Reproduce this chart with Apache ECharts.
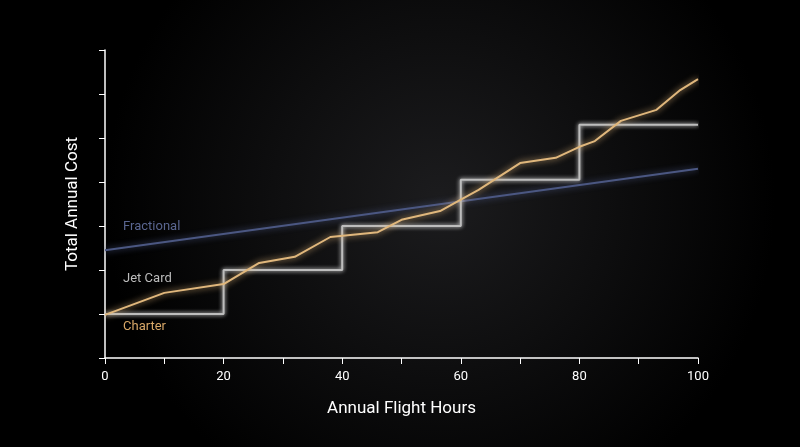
<!DOCTYPE html>
<html><head><meta charset="utf-8">
<script src="https://cdn.jsdelivr.net/npm/echarts@6/dist/echarts.min.js"></script>
<style>html,body{margin:0;padding:0;background:#000}#c{width:800px;height:447px}</style>
</head><body><div id="c"></div>
<script>
const fractional = [[0,2.45],[100,4.3]];
const jetCard = [[0,1],[20,1],[20,2],[40,2],[40,3],[60,3],[60,4.05],[80,4.05],[80,5.3],[100,5.3]];
const charter = [[0,0.98],[10,1.48],[20,1.68],[26,2.16],[32,2.3],[38,2.75],[46,2.86],[50,3.14],[56.5,3.34],[60,3.6],[63,3.82],[70,4.43],[76,4.55],[80,4.8],[82.6,4.93],[87,5.39],[93,5.64],[97,6.09],[100,6.34]];
const xTicks = [0,20,40,60,80,100];
const seriesLabels = [['Fractional',2.98],['Jet Card',1.8],['Charter',0.72]];
const c = echarts.init(document.getElementById('c'));
const mp = (i,col)=>({symbol:'circle',symbolSize:0.1,silent:true,
  data:[{coord:[0,seriesLabels[i][1]],label:{show:true,position:'right',offset:[13,0],formatter:seriesLabels[i][0],color:col,fontSize:13,fontFamily:'Roboto'}}]});
c.setOption({
  backgroundColor:{type:'radial',x:0.55,y:0.45,r:0.75,colorStops:[{offset:0,color:'#1c1c1e'},{offset:1,color:'#000'}]},
  grid:{left:105,right:102,top:50,bottom:89},
  xAxis:{type:'value',min:0,max:100,interval:10,
    name:'Annual Flight Hours',nameLocation:'middle',nameGap:42,nameTextStyle:{color:'#fff',fontSize:17,fontFamily:'Roboto'},
    axisLine:{lineStyle:{color:'#fff',width:1.5}},axisTick:{show:true,length:6,lineStyle:{color:'#fff'}},
    axisLabel:{color:'#fff',fontSize:13,fontFamily:'Roboto',margin:12,formatter:v=>xTicks.includes(v)?String(v):''},
    splitLine:{show:false}},
  yAxis:{type:'value',min:0,max:7,interval:1,
    name:'Total Annual Cost',nameLocation:'middle',nameGap:24,nameTextStyle:{color:'#fff',fontSize:17,fontFamily:'Roboto'},
    axisLine:{show:true,lineStyle:{color:'#fff',width:1.5}},axisTick:{show:true,length:6,lineStyle:{color:'#fff'}},
    axisLabel:{show:false},splitLine:{show:false}},
  series:[
    {type:'line',data:fractional,symbol:'none',lineStyle:{color:'#4b5782',width:2,shadowColor:'#4b5782',shadowBlur:6},z:1,markPoint:mp(0,'#5a6690')},
    {type:'line',data:jetCard,symbol:'none',lineStyle:{color:'#bdbdbd',width:2,shadowColor:'#ffffff',shadowBlur:4},z:2,markPoint:mp(1,'#bdbdbd')},
    {type:'line',data:charter,symbol:'none',lineStyle:{color:'#e0b77c',width:2,shadowColor:'#e0b77c',shadowBlur:6},z:3,markPoint:mp(2,'#d8a868')}
  ]
});
</script></body></html>
